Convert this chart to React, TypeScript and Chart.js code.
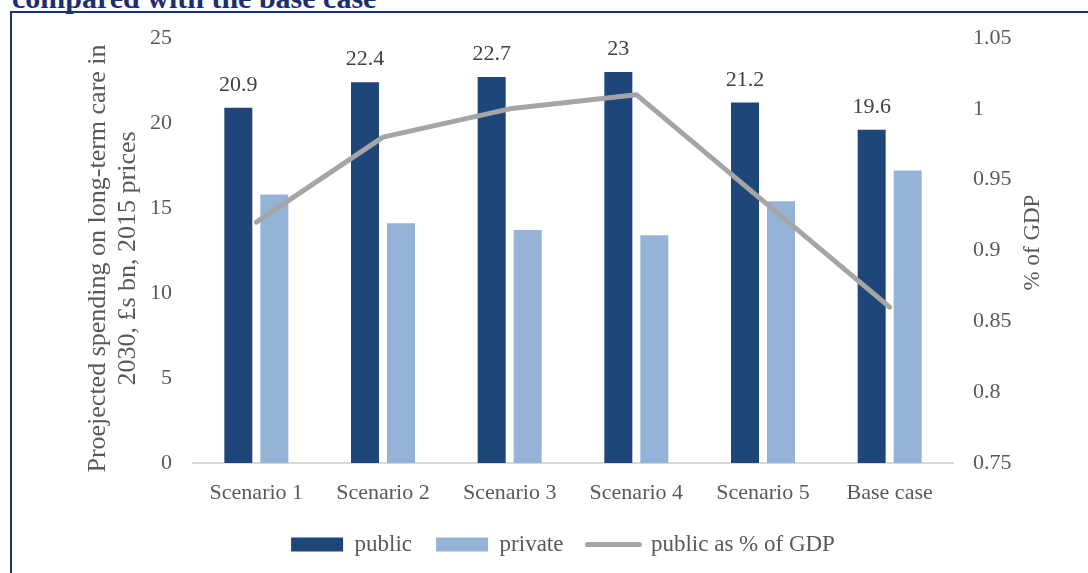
import React, { useEffect, useRef } from "react";
import { Chart, registerables } from "chart.js";

Chart.register(...registerables);

const categories = ["Scenario 1", "Scenario 2", "Scenario 3", "Scenario 4", "Scenario 5", "Base case"];
const publicValues = [20.9, 22.4, 22.7, 23, 21.2, 19.6];
const privateValues = [15.8, 14.1, 13.7, 13.4, 15.4, 17.2];
const gdpShare = [0.92, 0.98, 1.0, 1.01, 0.935, 0.86];
const seriesNames = ["public", "private", "public as % of GDP"];
const leftTitle = ["Proejected spending on long-term care in", "2030, \u00a3s bn, 2015 prices"];
const rightTitle = "% of GDP";
const heading = "compared with the base case";

const FONT = "'Liberation Serif', 'DejaVu Serif', serif";
const TEXT = "#595959";

const valueLabels = {
  id: "valueLabels",
  afterDatasetsDraw(chart: any) {
    const meta = chart.getDatasetMeta(0);
    const ctx = chart.ctx;
    ctx.save();
    ctx.font = `22px ${FONT}`;
    ctx.fillStyle = "#404040";
    ctx.textAlign = "center";
    ctx.textBaseline = "alphabetic";
    meta.data.forEach((bar: any, i: number) => {
      ctx.fillText(String(publicValues[i]), bar.x, bar.y - 17);
    });
    ctx.restore();
  },
};

// Axis titles, both reading bottom-to-top
const axisTitles = {
  id: "axisTitles",
  afterDraw(chart: any) {
    const ctx = chart.ctx;
    const yl = chart.scales.y;
    const yr = chart.scales.y1;
    ctx.save();
    ctx.fillStyle = TEXT;
    ctx.textAlign = "center";
    ctx.textBaseline = "middle";
    ctx.font = `26px ${FONT}`;
    const cy = (yl.top + yl.bottom) / 2 + 8;
    leftTitle.forEach((line, i) => {
      ctx.save();
      ctx.translate(yl.left + 60 + i * 30, cy);
      ctx.rotate(-Math.PI / 2);
      ctx.fillText(line, 0, 0);
      ctx.restore();
    });
    ctx.font = `23px ${FONT}`;
    ctx.save();
    ctx.translate(yr.right - 55, (yr.top + yr.bottom) / 2 - 8);
    ctx.rotate(-Math.PI / 2);
    ctx.fillText(rightTitle, 0, 0);
    ctx.restore();
    ctx.restore();
  },
};

export default function App() {
  const ref = useRef<HTMLCanvasElement | null>(null);

  useEffect(() => {
    if (!ref.current) return;
    const chart = new Chart(ref.current, {
      type: "bar",
      data: {
        labels: categories,
        datasets: [
          {
            type: "bar",
            label: seriesNames[0],
            data: publicValues,
            backgroundColor: "#1f4678",
            yAxisID: "y",
            order: 1,
            categoryPercentage: 0.5684,
            barPercentage: 0.7778,
          },
          {
            type: "bar",
            label: seriesNames[1],
            data: privateValues,
            backgroundColor: "#95b3d7",
            yAxisID: "y",
            order: 1,
            categoryPercentage: 0.5684,
            barPercentage: 0.7778,
          },
          {
            type: "line",
            label: seriesNames[2],
            data: gdpShare,
            borderColor: "#a5a5a5",
            borderWidth: 5,
            pointRadius: 0,
            tension: 0,
            borderCapStyle: "round",
            borderJoinStyle: "round",
            yAxisID: "y1",
            order: 0,
          },
        ],
      } as any,
      options: {
        responsive: false,
        animation: false,
        layout: { padding: { left: 38, right: 0, top: 38, bottom: 7 } },
        plugins: {
          tooltip: { enabled: false },
          legend: {
            position: "bottom",
            labels: {
              font: { family: FONT, size: 23 },
              color: TEXT,
              usePointStyle: true,
              pointStyleWidth: 52,
              boxHeight: 14,
              padding: 24,
              generateLabels: (c: any) => {
                const items = Chart.defaults.plugins.legend.labels.generateLabels(c);
                items.sort((a: any, b: any) => a.datasetIndex - b.datasetIndex);
                return items.map((it: any) =>
                  it.datasetIndex === 2
                    ? { ...it, pointStyle: "line", lineWidth: 5, strokeStyle: "#a5a5a5", lineCap: "round" }
                    : { ...it, pointStyle: "rect", lineWidth: 0 }
                );
              },
            },
          },
        },
        scales: {
          x: {
            grid: { display: false, drawTicks: false },
            border: { display: true, color: "#d9d9d9", width: 2 },
            ticks: { font: { family: FONT, size: 22 }, color: TEXT, padding: 17 },
            afterFit: (s: any) => {
              s.height = 46;
            },
          },
          y: {
            position: "left",
            min: 0,
            max: 25,
            grid: { display: false, drawTicks: false },
            border: { display: false },
            ticks: { stepSize: 5, font: { family: FONT, size: 22 }, color: TEXT, padding: 21 },
            afterFit: (s: any) => {
              s.width = 155;
            },
          },
          y1: {
            position: "right",
            min: 0.75,
            max: 1.05,
            grid: { display: false, drawTicks: false },
            border: { display: false },
            ticks: {
              stepSize: 0.05,
              font: { family: FONT, size: 22 },
              color: TEXT,
              padding: 20,
              callback: (v: any) => String(Number(Number(v).toFixed(2))),
            },
            afterFit: (s: any) => {
              s.width = 135;
            },
          },
        },
      } as any,
      plugins: [valueLabels, axisTitles],
    });
    return () => chart.destroy();
  }, []);

  return (
    <div style={{ position: "absolute", left: 0, top: 0, width: 1088, height: 573, overflow: "hidden", background: "#fff" }}>
      <div
        style={{
          position: "absolute",
          left: 12,
          top: -17,
          fontFamily: FONT,
          fontWeight: "bold",
          fontSize: 30,
          lineHeight: "30px",
          color: "#1b2f6e",
          whiteSpace: "nowrap",
        }}
      >
        {heading}
      </div>
      <div style={{ position: "absolute", left: 10, top: 11, width: 1078, height: 2, background: "#1c3372" }} />
      <div style={{ position: "absolute", left: 10, top: 11, width: 2, height: 562, background: "#1c3372" }} />
      <canvas ref={ref} width={1088} height={573} style={{ position: "absolute", left: 0, top: 0, width: 1088, height: 573 }} />
    </div>
  );
}
